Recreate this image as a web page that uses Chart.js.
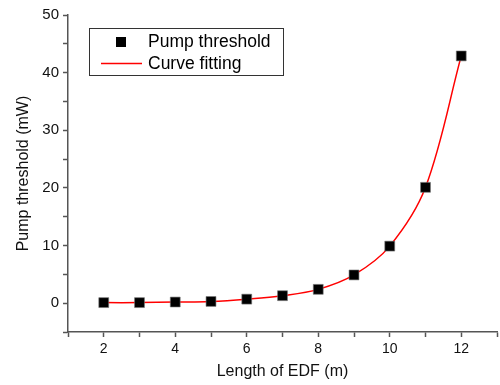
<!DOCTYPE html>
<html>
<head>
<meta charset="utf-8">
<script src="https://cdn.jsdelivr.net/npm/chart.js@4"></script>
<style>
  html, body { margin: 0; padding: 0; background: #fff; }
  #wrap { width: 500px; height: 385px; }
</style>
</head>
<body>
<div id="wrap"><canvas id="pumpChart" width="500" height="385"></canvas></div>
<script>
const edfLengths = [2, 3, 4, 5, 6, 7, 8, 9, 10, 11, 12];
const pumpThreshold = [0.1, 0.1, 0.2, 0.3, 0.7, 1.3, 2.4, 4.9, 9.9, 20.1, 42.9];
const fitValues = [0.1, 0.1, 0.2, 0.3, 0.7, 1.3, 2.4, 4.9, 9.9, 20.1, 42.9];
const xTickLabels = ['2', '4', '6', '8', '10', '12'];
const yTickLabels = ['0', '10', '20', '30', '40', '50'];

const font = 'Liberation Sans, Arial, sans-serif';
const axisColor = '#555';

/* legend drawn inside the plot, with a frame like the original */
const boxLegend = {
    id: 'boxLegend',
    afterDraw(chart) {
        const ctx = chart.ctx;
        const sets = chart.data.datasets;
        ctx.save();
        ctx.strokeStyle = '#333';
        ctx.lineWidth = 1;
        ctx.strokeRect(89.5, 28.5, 194, 47);
        ctx.font = '17.5px ' + font;
        ctx.fillStyle = '#000';
        ctx.textBaseline = 'middle';
        // marker entry
        ctx.fillRect(116, 37, 10, 10);
        ctx.fillText(sets[0].label, 148, 42);
        // line entry
        ctx.strokeStyle = 'red';
        ctx.lineWidth = 1.5;
        ctx.beginPath();
        ctx.moveTo(101, 63.5);
        ctx.lineTo(142, 63.5);
        ctx.stroke();
        ctx.fillText(sets[1].label, 148, 64);
        ctx.restore();
    }
};

const ctx = document.getElementById('pumpChart');
new Chart(ctx, {
    type: 'scatter',
    data: {
        datasets: [{
            label: 'Pump threshold',
            data: edfLengths.map((x, i) => ({ x: x, y: pumpThreshold[i] })),
            pointStyle: 'rect',
            pointRadius: 7,
            backgroundColor: '#000',
            borderColor: '#777',
            borderWidth: 0.6,
            showLine: false,
            order: 0,
        }, {
            label: 'Curve fitting',
            data: edfLengths.map((x, i) => ({ x: x, y: fitValues[i] })),
            showLine: true,
            borderColor: 'red',
            borderWidth: 1.5,
            pointRadius: 0,
            tension: 0.35,
            fill: false,
            order: 1,
        }],
    },
    options: {
        responsive: false,
        animation: false,
        layout: { autoPadding: false, padding: { top: 15, right: 3, left: 0, bottom: 0 } },
        plugins: {
            legend: { display: false },
            tooltip: { enabled: false },
        },
        scales: {
            x: {
                type: 'linear',
                min: 1,
                max: 13,
                afterFit: (scale) => {
                    scale.height = 53;
                    scale.paddingLeft = 0;
                    scale.paddingRight = 0;
                },
                ticks: {
                    stepSize: 1,
                    autoSkip: false,
                    maxRotation: 0,
                    padding: 4,
                    color: '#111',
                    font: { family: font, size: 14 },
                    callback: (v) => xTickLabels.includes(String(v)) ? String(v) : '',
                },
                grid: {
                    drawOnChartArea: false,
                    drawTicks: true,
                    tickLength: 5,
                    tickColor: axisColor,
                    tickWidth: 1.5,
                },
                border: { display: true, color: axisColor, width: 1.5 },
                title: {
                    display: true,
                    text: 'Length of EDF (m)',
                    color: '#111',
                    font: { family: font, size: 16 },
                    padding: { top: 2, bottom: 4 },
                },
            },
            y: {
                min: -5,
                max: 50,
                afterFit: (scale) => { scale.width = 68; },
                ticks: {
                    stepSize: 5,
                    autoSkip: false,
                    padding: 4,
                    color: '#111',
                    font: { family: font, size: 15 },
                    callback: (v) => yTickLabels.includes(String(v)) ? String(v) : '',
                },
                grid: {
                    drawOnChartArea: false,
                    drawTicks: true,
                    tickLength: 5,
                    tickColor: axisColor,
                    tickWidth: 1.5,
                },
                border: { display: true, color: axisColor, width: 1.5 },
                title: {
                    display: true,
                    text: 'Pump threshold (mW)',
                    color: '#111',
                    font: { family: font, size: 16 },
                    padding: { top: 14, bottom: 0 },
                },
            },
        },
    },
    plugins: [boxLegend],
});
</script>
</body>
</html>
